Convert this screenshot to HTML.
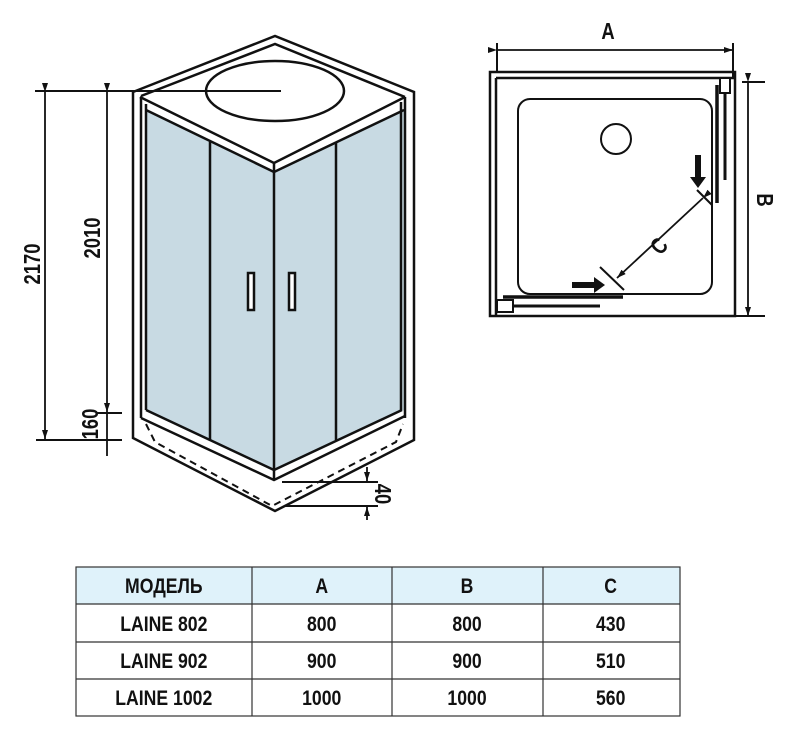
<!DOCTYPE html>
<html><head><meta charset="utf-8"><style>
html,body{margin:0;padding:0;background:#fff;}
svg{display:block}
text{font-family:"Liberation Sans",sans-serif;font-weight:bold;fill:#111}
</style></head><body>
<svg width="798" height="738" viewBox="0 0 798 738" xmlns="http://www.w3.org/2000/svg">
<defs>
<marker id="ar" markerWidth="10" markerHeight="10" refX="9" refY="3" orient="auto" markerUnits="userSpaceOnUse"><path d="M0,0 L9,3 L0,6 z" fill="#111"/></marker>
</defs>
<g stroke="#111" stroke-width="2.5" fill="none" stroke-linejoin="miter">
<polygon points="146,110 274,172 274,470 146,410" fill="#c8dae3" stroke="none"/>
<polygon points="274,172 404,110 404,410 274,470" fill="#c8dae3" stroke="none"/>
<path d="M133,92 L275,36 L414,92 L414,440 L275,511 L133,438 Z"/>
<path d="M141,96 L275,44 L405,97"/>
<path d="M140,97 L274,163 L405,97"/>
<path d="M146,110 L274,172 L404,110"/>
<line x1="274" y1="163" x2="274" y2="480"/>
<line x1="141" y1="97" x2="141" y2="418"/>
<line x1="146" y1="104" x2="146" y2="410"/>
<line x1="405" y1="97" x2="405" y2="418"/>
<line x1="401" y1="102" x2="401" y2="410"/>
<path d="M146,410 L274,470 L402,410"/>
<path d="M141,418 L274,480 L405,416"/>
<path d="M146,424 L155,442 L272,506 L396,442 L403,424" stroke-dasharray="7,5" stroke-width="2"/>
<line x1="210" y1="142" x2="210" y2="440"/>
<line x1="336" y1="142" x2="336" y2="440"/>
<rect x="248" y="273" width="6" height="37" fill="#fff"/>
<rect x="289" y="273" width="6" height="37" fill="#fff"/>
<ellipse cx="275" cy="91" rx="69" ry="30"/>
<line x1="35" y1="91" x2="281" y2="91" stroke-width="2"/>
<line x1="45" y1="92" x2="45" y2="439" marker-start="url(#ar)" marker-end="url(#ar)" stroke-width="1.8"/>
<line x1="107" y1="92" x2="107" y2="412" marker-start="url(#ar)" marker-end="url(#ar)" stroke-width="1.8"/>
<line x1="107" y1="413" x2="107" y2="456" stroke-width="1.8"/>
<line x1="97" y1="413" x2="122" y2="413" stroke-width="2"/>
<line x1="36" y1="440" x2="122" y2="440" stroke-width="2"/>
<line x1="282" y1="482" x2="378" y2="482" stroke-width="2"/>
<line x1="285" y1="506" x2="378" y2="506" stroke-width="2"/>
<line x1="367" y1="467" x2="367" y2="481" marker-end="url(#ar)" stroke-width="1.8"/>
<line x1="367" y1="520" x2="367" y2="507" marker-end="url(#ar)" stroke-width="1.8"/>
<rect x="490" y="72" width="245" height="244"/>
<line x1="496" y1="78" x2="735" y2="78"/>
<line x1="496" y1="78" x2="496" y2="316"/>
<rect x="518" y="99" width="194" height="195" rx="12" stroke-width="2"/>
<circle cx="616" cy="139" r="15" stroke-width="2"/>
<line x1="497" y1="50" x2="733" y2="50" marker-start="url(#ar)" marker-end="url(#ar)" stroke-width="1.8"/>
<line x1="497" y1="43" x2="497" y2="72" stroke-width="2"/>
<line x1="733" y1="43" x2="733" y2="78" stroke-width="2"/>
<line x1="748" y1="82" x2="748" y2="316" marker-start="url(#ar)" marker-end="url(#ar)" stroke-width="1.8"/>
<line x1="742" y1="82" x2="765" y2="82" stroke-width="2"/>
<line x1="735" y1="316" x2="765" y2="316" stroke-width="2"/>
<line x1="717" y1="85" x2="717" y2="203" stroke-width="3.5"/>
<line x1="725" y1="85" x2="725" y2="180" stroke-width="3"/>
<rect x="720" y="78" width="10" height="15" fill="#fff" stroke-width="2"/>
<line x1="503" y1="297" x2="623" y2="297" stroke-width="3.5"/>
<line x1="513" y1="306" x2="600" y2="306" stroke-width="3"/>
<rect x="497" y="300" width="16" height="12" fill="#fff" stroke-width="2"/>
<line x1="703" y1="198" x2="617" y2="278" marker-start="url(#ar)" marker-end="url(#ar)" stroke-width="1.8"/>
<line x1="697" y1="190" x2="712" y2="205" stroke-width="2"/>
<line x1="600" y1="267" x2="624" y2="290" stroke-width="2"/>
</g>
<path d="M695,155 h6 v22 h5 l-8,11 l-8,-11 h5 z" fill="#111"/>
<path d="M572,282 h22 v-5 l11,8 l-11,8 v-5 h-22 z" fill="#111"/>
<g font-size="23">
<text transform="translate(608,39) scale(0.8,1)" text-anchor="middle">A</text>
<text transform="translate(757,200) rotate(90) scale(0.8,1)" text-anchor="middle">B</text>
<text transform="translate(665,251) rotate(-50) scale(0.8,1)" text-anchor="middle">C</text>
<text transform="translate(40,264) rotate(-90) scale(0.8,1)" text-anchor="middle">2170</text>
<text transform="translate(100,238) rotate(-90) scale(0.8,1)" text-anchor="middle">2010</text>
<text transform="translate(98,424) rotate(-90) scale(0.8,1)" text-anchor="middle">160</text>
<text transform="translate(375,494) rotate(90) scale(0.8,1)" text-anchor="middle">40</text>
</g>
<rect x="76" y="567" width="604" height="37" fill="#dff2fa"/>
<g stroke="#333" stroke-width="1.2" fill="none">
<rect x="76" y="567" width="604" height="149"/>
<line x1="76" y1="604" x2="680" y2="604"/>
<line x1="76" y1="642" x2="680" y2="642"/>
<line x1="76" y1="679" x2="680" y2="679"/>
<line x1="252" y1="567" x2="252" y2="716"/>
<line x1="392" y1="567" x2="392" y2="716"/>
<line x1="543" y1="567" x2="543" y2="716"/>
</g>
<g font-size="21" text-anchor="middle" transform="scale(0.84,1)">
<text x="195" y="593">МОДЕЛЬ</text><text x="383" y="593">A</text><text x="556" y="593">B</text><text x="727" y="593">C</text>
<text x="195" y="631">LAINE 802</text><text x="383" y="631">800</text><text x="556" y="631">800</text><text x="727" y="631">430</text>
<text x="195" y="668">LAINE 902</text><text x="383" y="668">900</text><text x="556" y="668">900</text><text x="727" y="668">510</text>
<text x="195" y="705">LAINE 1002</text><text x="383" y="705">1000</text><text x="556" y="705">1000</text><text x="727" y="705">560</text>
</g>
</svg>
</body></html>
